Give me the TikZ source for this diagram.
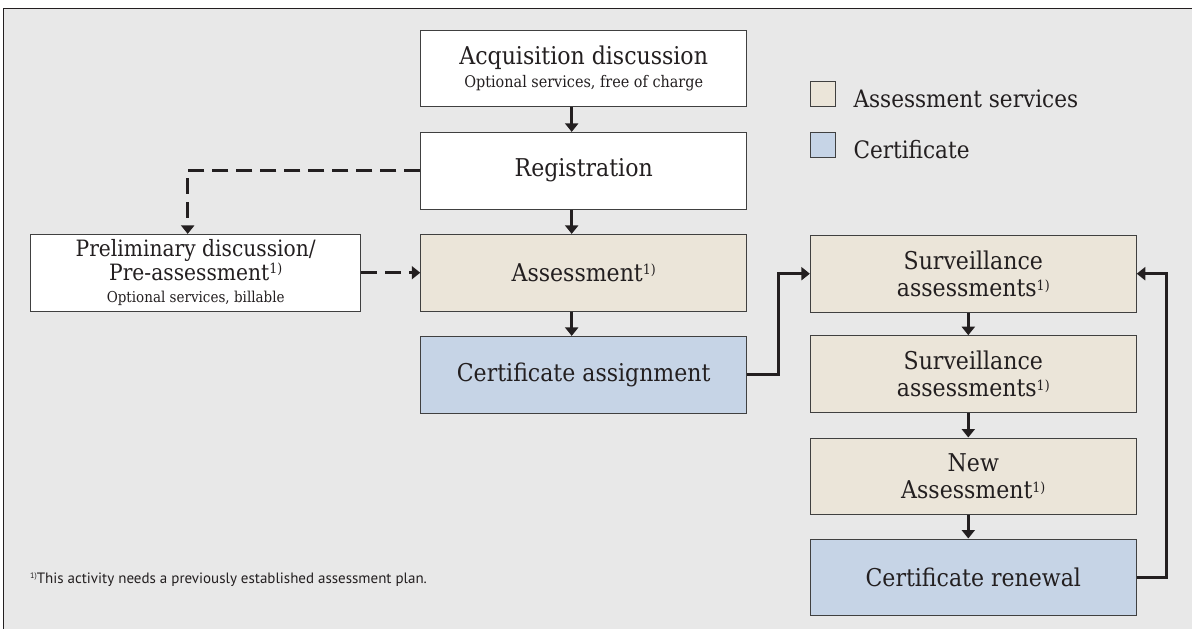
\documentclass[tikz,border=0pt]{standalone}
\usepackage{fontspec}
\setmainfont{DejaVu Serif}[FakeStretch=0.9]
\newfontfamily\notefont{PT Sans}
\usepackage{tikz}
\usetikzlibrary{arrows.meta}

\definecolor{panel}{RGB}{232,232,232}
\definecolor{svcfill}{RGB}{235,229,217}
\definecolor{certfill}{RGB}{198,212,230}
\definecolor{boxline}{RGB}{64,64,64}
\definecolor{ink}{RGB}{35,31,32}

\newcommand{\onemark}{\raisebox{6.5pt}{\fontsize{14}{14}\selectfont 1)}}
\newcommand{\subline}[2][16]{{\fontsize{#1}{19}\selectfont #2}}

\begin{document}
\begin{tikzpicture}[x=1pt,y=1pt,yscale=-1,
  box/.style={draw=boxline,line width=0.9pt,minimum width=326pt,minimum height=76.7pt,inner sep=0pt,align=center,text=ink,font=\fontsize{24.5}{27.6}\selectfont},
  plainbox/.style={box,fill=white},
  svcbox/.style={box,fill=svcfill},
  certbox/.style={box,fill=certfill},
  keybox/.style={draw=boxline,line width=0.9pt,minimum size=25pt,inner sep=0pt},
  keytext/.style={anchor=base west,inner sep=0pt,text=ink,font=\fontsize{24}{27.6}\selectfont},
  flow/.style={draw=ink,line width=2.8pt,-{Triangle[length=8.5pt,width=13pt]}},
  optflow/.style={flow,dash pattern=on 16pt off 8pt}]
\useasboundingbox (0,0) rectangle (1192,629);

%Shape: Panel
\fill[white] (0,0) rectangle (1192,629);
\fill[panel] (3.3,8.3) rectangle (1192,629);
\draw[line width=1.2pt,draw=ink] (1192,8.3) -- (3.3,8.3) -- (3.3,629);

%Boxes: main column
\node[plainbox] (acq) at (583.7,68.3) {Acquisition discussion\\[-4pt]\subline{Optional services, free of charge}};
\node[plainbox] (reg) at (583.7,170.7) {Registration};
\node[svcbox] (assess) at (583.7,272.7) {Assessment\onemark};
\node[certbox] (cassign) at (583.7,374.7) {Certificate assignment};

%Boxes: optional step
\node[plainbox,minimum width=330pt,font=\fontsize{22.5}{23.4}\selectfont] (prelim) at (195.7,272.7) {Preliminary discussion/\\Pre-assessment\onemark\\[-1pt]\subline[15]{Optional services, billable}};

%Boxes: certificate cycle
\node[svcbox] (surv1) at (973.3,273.7) {Surveillance\\assessments\onemark};
\node[svcbox] (surv2) at (973.3,374) {Surveillance\\assessments\onemark};
\node[svcbox] (newassess) at (973.3,476.3) {New\\Assessment\onemark};
\node[certbox] (renewal) at (973.3,577.3) {Certificate renewal};

%Legend
\node[keybox,fill=svcfill] (keysvc) at (822.7,94.2) {};
\node[keybox,fill=certfill] (keycert) at (822.7,144.8) {};
\node[keytext] (keysvclabel) at (853.3,107) {Assessment services};
\node[keytext] (keycertlabel) at (853.3,158) {Certificate};

% Text Node
\node[anchor=base west,inner sep=0pt,text=ink,font=\notefont\fontsize{15}{17}\selectfont] (note) at (30,583) {\raisebox{5pt}{\fontsize{8}{8}\selectfont 1)}This activity needs a previously established assessment plan.};

%Connectors
\draw[flow] ([xshift=-12pt]acq.south) -- ([xshift=-12pt]reg.north);
\draw[flow] ([xshift=-12pt]reg.south) -- ([xshift=-12pt]assess.north);
\draw[flow] ([xshift=-12pt]assess.south) -- ([xshift=-12pt]cassign.north);
\draw[flow] ([xshift=-5pt]surv1.south) -- ([xshift=-5pt]surv2.north);
\draw[flow] ([xshift=-5pt]surv2.south) -- ([xshift=-5pt]newassess.north);
\draw[flow] ([xshift=-5pt]newassess.south) -- ([xshift=-5pt]renewal.north);
\draw[optflow] (reg.west) -| ([xshift=-8pt]prelim.north);
\draw[optflow] (prelim.east) -- (assess.west);

%Connectors: into the cycle
\coordinate (liftA) at (778.3,0);
\coordinate (liftB) at (1166.7,0);
\draw[flow] (cassign.east) -- (cassign.east -| liftA) |- (surv1.west);
\draw[flow] (renewal.east) -- (renewal.east -| liftB) |- (surv1.east);

\end{tikzpicture}
\end{document}
